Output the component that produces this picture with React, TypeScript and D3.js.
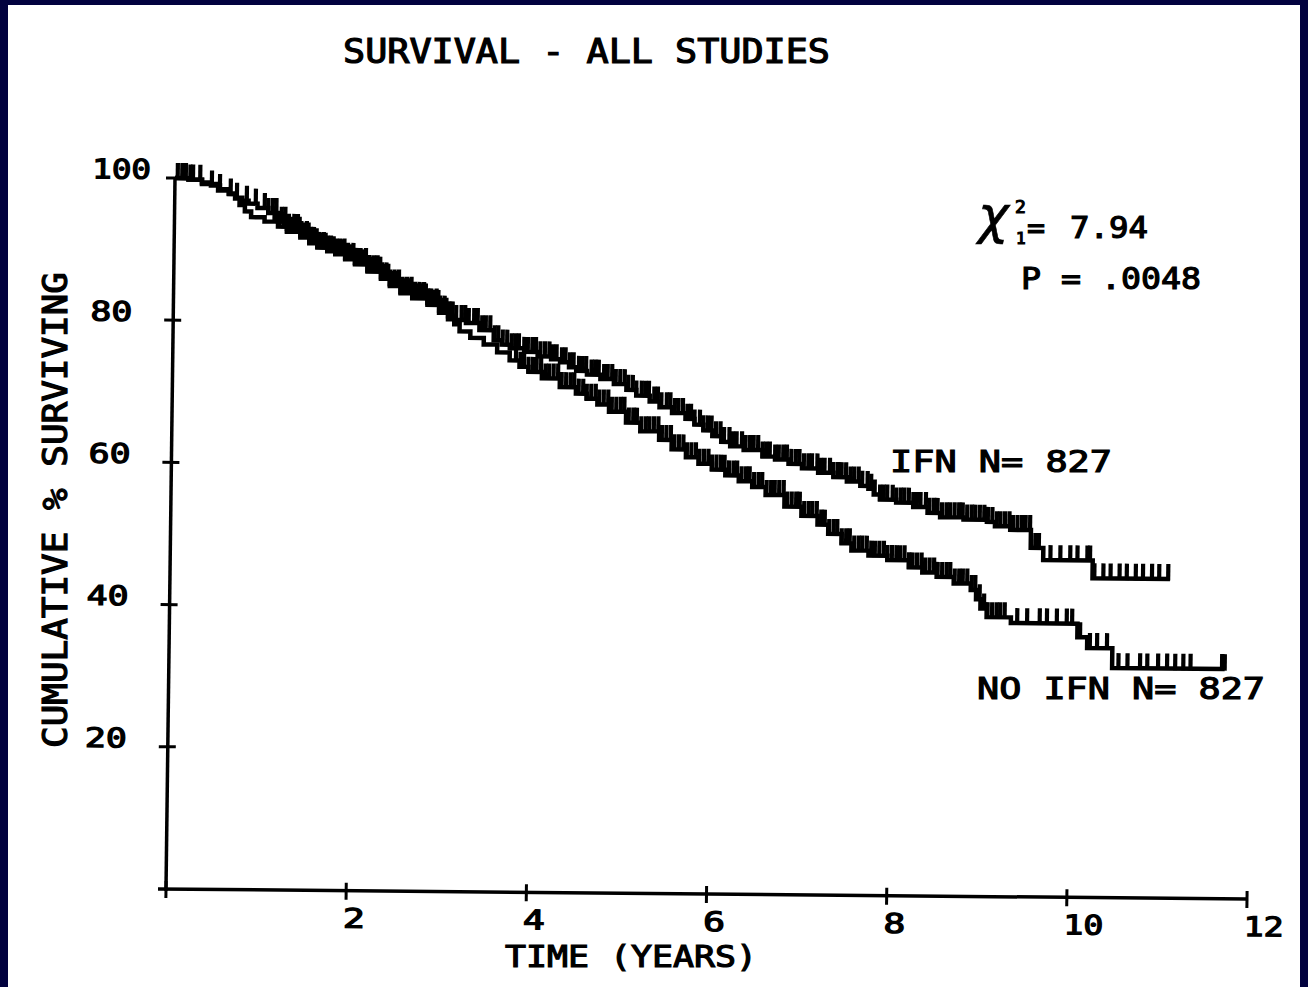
import React from "react";
import * as d3 from "d3";

// ---- data ----
const xTickValues = [2, 4, 6, 8, 10, 12];
const yTickValues = [20, 40, 60, 80, 100];

const ifnCurve: [number, number][] = [
  [0, 100], [0.15, 99.8], [0.3, 99.4], [0.4, 99.0], [0.5, 98.5], [0.6, 97.9], [0.68, 97.3], [0.75, 96.9], [0.82, 96.5], [0.92, 95.9],
  [1.04, 95.2], [1.15, 94.0], [1.25, 93.0], [1.4, 92.0], [1.5, 91.2], [1.59, 90.5], [1.7, 90.0], [1.79, 89.6], [1.9, 89.0], [2.01, 88.3],
  [2.15, 87.3], [2.3, 86.3], [2.4, 85.3], [2.52, 84.3], [2.65, 83.6], [2.82, 82.7], [2.95, 81.7], [3.05, 80.9], [3.12, 80.4], [3.25, 80.0],
  [3.4, 79.0], [3.56, 77.6], [3.65, 77.0], [3.74, 76.5], [3.9, 76.0], [4.05, 75.4], [4.2, 75.0], [4.3, 74.6], [4.4, 73.9], [4.48, 73.4],
  [4.6, 72.9], [4.75, 72.3], [4.9, 71.6], [5.04, 70.8], [5.15, 70.0], [5.3, 69.2], [5.41, 68.4], [5.55, 67.6], [5.7, 66.8], [5.8, 66.0],
  [5.9, 65.2], [6.0, 64.4], [6.1, 63.6], [6.2, 63.0], [6.35, 62.5], [6.56, 61.6], [6.7, 61.2], [6.85, 60.6], [7.0, 60.0], [7.18, 59.4],
  [7.35, 58.8], [7.5, 58.2], [7.65, 57.6], [7.74, 57.2], [7.8, 56.4], [7.87, 55.7], [8.05, 55.3], [8.24, 54.7], [8.4, 53.9], [8.54, 53.3],
  [8.8, 53.0], [9.06, 52.7], [9.15, 52.1], [9.32, 51.6], [9.55, 49.1], [9.69, 47.4], [10.24, 44.9], [11.1, 44.9],
];

const noIfnCurve: [number, number][] = [
  [0, 100], [0.15, 99.8], [0.3, 99.2], [0.48, 98.3], [0.6, 97.8], [0.67, 97.2], [0.72, 96.3], [0.78, 95.4], [0.85, 94.6], [1.0, 94.0],
  [1.15, 93.3], [1.25, 92.6], [1.4, 91.8], [1.5, 91.0], [1.59, 90.4], [1.7, 89.9], [1.79, 89.5], [1.9, 88.8], [2.01, 88.1], [2.15, 87.1],
  [2.3, 86.1], [2.4, 85.1], [2.52, 84.1], [2.65, 83.4], [2.82, 82.5], [2.95, 81.4], [3.05, 80.5], [3.12, 79.8], [3.18, 78.8], [3.3, 77.9],
  [3.45, 77.0], [3.6, 75.9], [3.74, 74.8], [3.85, 73.9], [3.95, 73.2], [4.1, 72.3], [4.3, 71.1], [4.48, 70.2], [4.6, 69.5], [4.72, 68.7],
  [4.85, 67.7], [5.04, 66.2], [5.2, 65.0], [5.41, 63.8], [5.55, 62.5], [5.71, 61.4], [5.85, 60.5], [6.0, 59.7], [6.15, 58.9], [6.3, 58.1],
  [6.45, 57.3], [6.6, 56.2], [6.81, 54.6], [7.0, 53.3], [7.18, 52.1], [7.3, 50.8], [7.45, 49.5], [7.56, 48.5], [7.75, 47.8], [7.96, 47.2],
  [8.2, 46.2], [8.35, 45.5], [8.51, 44.9], [8.7, 44.0], [8.89, 43.1], [8.95, 41.8], [9.0, 40.5], [9.07, 39.3], [9.34, 38.5], [10.08, 36.6],
  [10.19, 35.1], [10.47, 32.3], [11.72, 32.3],
];

// censoring marks (years)
const ifnCensor = [
  0.03, 0.08, 0.12, 0.17, 0.2, 0.28, 0.41, 0.5, 0.62, 0.69, 0.8, 0.9,
  1.00, 1.04, 1.09, 1.13, 1.19, 1.23, 1.27, 1.33, 1.37, 1.41, 1.47, 1.51, 1.55, 1.61, 1.66, 1.70, 1.74, 1.80, 1.84, 1.89, 1.93, 1.99,
  2.03, 2.07, 2.13, 2.17, 2.22, 2.26, 2.31, 2.36, 2.40, 2.45, 2.50, 2.54, 2.59, 2.64, 2.68, 2.73, 2.78, 2.82, 2.86, 2.92, 2.96,
  3.01, 3.06, 3.10, 3.14, 3.20, 3.24, 3.28, 3.34, 3.38, 3.43, 3.47, 3.52, 3.57, 3.61, 3.66, 3.71, 3.76, 3.80, 3.84, 3.90, 3.94, 3.99,
  4.03, 4.08, 4.13, 4.18, 4.22, 4.26, 4.32, 4.36, 4.41, 4.45, 4.51, 4.55, 4.59, 4.65, 4.69, 4.73, 4.79, 4.83, 4.88, 4.92, 4.97,
  5.02, 5.06, 5.11, 5.15, 5.21, 5.25, 5.29, 5.35, 5.39, 5.43, 5.49, 5.53, 5.58, 5.62, 5.67, 5.72, 5.76, 5.80, 5.86, 5.90, 5.95, 5.99,
  6.04, 6.09, 6.13, 6.19, 6.23, 6.27, 6.33, 6.37, 6.42, 6.46, 6.51, 6.56, 6.60, 6.64, 6.70, 6.74, 6.79, 6.83, 6.88, 6.93, 6.97,
  7.02, 7.07, 7.11, 7.17, 7.21, 7.25, 7.31, 7.35, 7.40, 7.44, 7.49, 7.54, 7.58, 7.63, 7.67, 7.73, 7.77, 7.81, 7.87, 7.91, 7.95,
  8.01, 8.05, 8.10, 8.14, 8.19, 8.24, 8.28, 8.32, 8.38, 8.42, 8.47, 8.51, 8.56, 8.61, 8.65, 8.70, 8.75, 8.79, 8.84, 8.89, 8.93, 8.98,
  9.03, 9.07, 9.12, 9.17, 9.21, 9.26, 9.31, 9.35, 9.40, 9.45, 9.49, 9.54, 9.60, 9.64,
  9.77, 9.88, 9.99, 10.07, 10.18, 10.21,
  10.26, 10.36, 10.44, 10.54, 10.62, 10.72, 10.8, 10.9, 10.98, 11.08,
];

const noIfnCensor = [
  1.11, 1.16, 1.21, 1.25, 1.30, 1.35, 1.39, 1.44, 1.49, 1.53, 1.58, 1.63, 1.68, 1.72, 1.77, 1.82, 1.86, 1.91, 1.96,
  2.01, 2.05, 2.10, 2.15, 2.19, 2.24, 2.29, 2.33, 2.38, 2.43, 2.47, 2.52, 2.57, 2.61, 2.66, 2.71, 2.75, 2.80, 2.85, 2.89, 2.94, 2.99,
  3.03, 3.08,
  3.81, 3.86, 3.90, 3.95, 4.00, 4.04, 4.09, 4.14, 4.18, 4.23, 4.28, 4.32, 4.37, 4.42, 4.46, 4.51, 4.56, 4.60, 4.65, 4.70, 4.74, 4.79, 4.84, 4.88, 4.93, 4.98,
  5.02, 5.07, 5.12, 5.16, 5.21, 5.26, 5.30, 5.35, 5.40, 5.44, 5.49, 5.54, 5.58, 5.63, 5.68, 5.72, 5.77, 5.82, 5.86, 5.91, 5.96,
  6.00, 6.05, 6.10, 6.14, 6.19, 6.24, 6.28, 6.33, 6.38, 6.42, 6.47, 6.52, 6.56, 6.61, 6.66, 6.70, 6.75, 6.80, 6.84, 6.89, 6.94, 6.98,
  7.03, 7.08, 7.12, 7.17, 7.22, 7.26, 7.31, 7.36, 7.40, 7.45, 7.50, 7.54, 7.59, 7.64, 7.68, 7.73, 7.78, 7.82, 7.87, 7.92, 7.96,
  8.01, 8.06, 8.10, 8.15, 8.20, 8.24, 8.29, 8.34, 8.38, 8.43, 8.48, 8.52, 8.57, 8.62, 8.66, 8.71, 8.76, 8.80, 8.85, 8.90, 8.94, 8.99,
  9.04, 9.08, 9.13, 9.18, 9.22, 9.27,
  9.41, 9.52, 9.66, 9.74, 9.85, 9.96, 10.02,
  10.11, 10.22, 10.3, 10.41,
  10.54, 10.64, 10.78, 10.86, 10.98, 11.08, 11.17, 11.26, 11.34, 11.69, 11.72,
];

// ---- layout ----
const W = 1308;
const H = 987;
const PLOT_W = 1081;
const PLOT_H = 711;
const FONT = "'DejaVu Sans Mono', 'Liberation Mono', monospace";
const TICK_LEN = 15;

const x = d3.scaleLinear().domain([0, 12]).range([0, PLOT_W]);
const y = d3.scaleLinear().domain([0, 100]).range([0, -PLOT_H]);

const stepLine = d3
  .line<[number, number]>()
  .x((d) => x(d[0]))
  .y((d) => y(d[1]))
  .curve(d3.curveStepAfter);

function survAt(curve: [number, number][], t: number) {
  const i = d3.bisector((d: [number, number]) => d[0]).right(curve, t) - 1;
  return curve[Math.max(0, i)][1];
}

function Curve({ curve, censor }: { curve: [number, number][]; censor: number[] }) {
  return (
    <g>
      <path d={stepLine(curve) || ""} fill="none" stroke="#000" strokeWidth={4.5} strokeLinejoin="miter" />
      {censor.map((t, i) => {
        const cx = x(t);
        const cy = y(survAt(curve, t));
        return <line key={i} x1={cx} x2={cx} y1={cy + 1.5} y2={cy - TICK_LEN} stroke="#000" strokeWidth={4.2} />;
      })}
    </g>
  );
}

const txt = {
  fontFamily: FONT,
  fontWeight: 400,
  fill: "#000",
  stroke: "#000",
  strokeWidth: 1.2,
  lengthAdjust: "spacingAndGlyphs",
} as const;

export default function App() {
  return (
    <svg width={W} height={H} style={{ position: "absolute", left: 0, top: 0 }}>
      <rect x={0} y={0} width={W} height={H} fill="#02023f" />
      <rect x={8} y={5} width={1292} height={H - 5} fill="#ffffff" />

      {/* title */}
      <text x={343} y={63} fontSize={33} textLength={487} {...txt}>
        SURVIVAL - ALL STUDIES
      </text>

      {/* plot area (slightly skewed like the scanned original) */}
      <g transform={`matrix(1,0.00925,-0.01266,1,166,889)`}>
        <line x1={-8} y1={0} x2={x(12)} y2={0} stroke="#000" strokeWidth={3.5} />
        <line x1={0} y1={2} x2={0} y2={y(100)} stroke="#000" strokeWidth={3.5} />
        {[0, ...xTickValues].map((t) => (
          <line key={"xt" + t} x1={x(t)} x2={x(t)} y1={-8} y2={9} stroke="#000" strokeWidth={3} />
        ))}
        {yTickValues.map((v) => (
          <line key={"yt" + v} x1={-9} x2={8} y1={y(v)} y2={y(v)} stroke="#000" strokeWidth={3} />
        ))}
        {xTickValues.map((t) => (
          <text key={"xl" + t} x={x(t) - 3} y={37} fontSize={27} textLength={String(t).length > 1 ? 40 : 22} {...txt}>
            {t}
          </text>
        ))}
        {yTickValues.map((v) => (
          <text key={"yl" + v} x={-83} y={y(v) + 1} fontSize={27} textLength={String(v).length > 2 ? 59 : 42} {...txt}>
            {v}
          </text>
        ))}

        <Curve curve={noIfnCurve} censor={noIfnCensor} />
        <Curve curve={ifnCurve} censor={ifnCensor} />
      </g>

      {/* axis titles */}
      <text x={505} y={967} fontSize={31} textLength={252} {...txt}>
        TIME  (YEARS)
      </text>
      <text transform="translate(67,748) rotate(-90)" x={0} y={0} fontSize={33} textLength={476} {...txt}>
        CUMULATIVE % SURVIVING
      </text>

      {/* statistics */}
      <text x={978} y={233} fontSize={52} fontStyle="italic" fontFamily="'DejaVu Sans', sans-serif" fill="#000" stroke="#000" strokeWidth={0.6}>
        χ
      </text>
      <text x={1015} y={213} fontSize={18} {...txt}>2</text>
      <text x={1016} y={244} fontSize={16} {...txt}>1</text>
      <text x={1027} y={238} fontSize={30} {...txt}>=</text>
      <text x={1070} y={238} fontSize={30} textLength={78} {...txt}>
        7.94
      </text>
      <text x={1021} y={289} fontSize={30} textLength={180} {...txt}>
        P = .0048
      </text>

      {/* series labels */}
      <text x={890} y={472} fontSize={31} textLength={222} {...txt}>
        IFN N= 827
      </text>
      <text x={977} y={699} fontSize={31} textLength={288} {...txt}>
        NO IFN N= 827
      </text>
    </svg>
  );
}
